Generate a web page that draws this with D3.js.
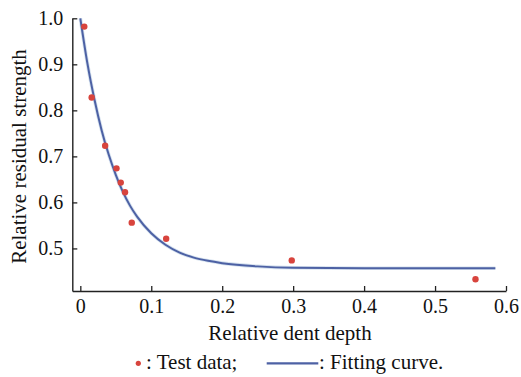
<!DOCTYPE html>
<html><head><meta charset="utf-8"><script src='https://d3js.org/d3.v7.min.js'></script></head>
<body style="margin:0">
<script>
    var width = 521, height = 377;
    var serif = 'Liberation Serif';

    // test points
    var testX = [0.0056, 0.016, 0.035, 0.051, 0.057, 0.063, 0.0725, 0.121, 0.298, 0.557];
    var testY = [0.982, 0.828, 0.723, 0.674, 0.643, 0.622, 0.556, 0.521, 0.474, 0.433];

    // fitted curve
    var fitX = [0, 0.01, 0.02, 0.03, 0.04, 0.05, 0.06, 0.07, 0.08, 0.10, 0.12, 0.14, 0.16, 0.18, 0.20, 0.25, 0.30, 0.40, 0.50, 0.585];
    var fitY = [1.0, 0.902, 0.823, 0.757, 0.704, 0.660, 0.623, 0.593, 0.569, 0.533, 0.508, 0.491, 0.480, 0.473, 0.468, 0.461, 0.458, 0.457, 0.457, 0.457];

    var xTicks = [0, 0.1, 0.2, 0.3, 0.4, 0.5, 0.6];
    var yTicks = [0.5, 0.6, 0.7, 0.8, 0.9, 1.0];

    var svg = d3.select('body').append('svg').attr('width', width).attr('height', height);

    var x = d3.scaleLinear().domain([-0.0113, 0.6]).range([72.3, 506]);
    var y = d3.scaleLinear().domain([0.4075, 1.0]).range([291, 18.3]);

    function styleText(sel, size) {
        return sel.attr('font-family', serif).attr('font-size', size).attr('fill', '#111');
    }

    var xAxis = svg.append('g').attr('transform', 'translate(0,291)')
        .call(d3.axisBottom(x).tickValues(xTicks).tickSizeInner(-5).tickSizeOuter(0).tickPadding(7.5)
            .tickFormat(function(d) { return d === 0 ? '0' : d.toFixed(1); }));
    var yAxis = svg.append('g').attr('transform', 'translate(72.3,0)')
        .call(d3.axisLeft(y).tickValues(yTicks).tickSizeInner(-5).tickSizeOuter(0).tickPadding(9)
            .tickFormat(d3.format('.1f')));

    [xAxis, yAxis].forEach(function(a) {
        a.attr('font-family', serif).attr('font-size', 20);
        a.select('.domain').attr('stroke', '#222').attr('stroke-width', 1.4);
        a.selectAll('.tick line').attr('stroke', '#222').attr('stroke-width', 1.3);
        styleText(a.selectAll('.tick text'), 20);
    });

    // fitting curve
    var line = d3.line()
        .x(function(d, i) { return x(fitX[i]); })
        .y(function(d, i) { return y(fitY[i]); })
        .curve(d3.curveMonotoneX);
    svg.append('path').datum(fitY).attr('d', line)
        .attr('fill', 'none').attr('stroke', '#b9cde3').attr('stroke-width', 3.6).attr('opacity', 0.6);
    svg.append('path').datum(fitY).attr('d', line)
        .attr('fill', 'none').attr('stroke', '#4d61a4').attr('stroke-width', 2);

    // test data
    svg.selectAll('circle.pt')
        .data(testY)
        .join('circle')
        .attr('class', 'pt')
        .attr('cx', function(d, i) { return x(testX[i]); })
        .attr('cy', function(d) { return y(d); })
        .attr('r', 3.2)
        .attr('fill', '#d8443d');

    // axis titles
    styleText(svg.append('text'), 21).attr('x', 290).attr('y', 340).attr('text-anchor', 'middle')
        .text('Relative dent depth');
    styleText(svg.append('text'), 21).attr('transform', 'translate(26,156.5) rotate(-90)').attr('text-anchor', 'middle')
        .text('Relative residual strength');

    // legend
    svg.append('circle').attr('cx', 138.3).attr('cy', 363.3).attr('r', 2.6).attr('fill', '#d8443d');
    styleText(svg.append('text'), 21).attr('x', 146).attr('y', 369).text(': Test data;');
    svg.append('line').attr('x1', 266.7).attr('x2', 318.3).attr('y1', 363.3).attr('y2', 363.3)
        .attr('stroke', '#4d61a4').attr('stroke-width', 2.2);
    styleText(svg.append('text'), 21).attr('x', 319).attr('y', 369).text(': Fitting curve.');
</script>
</body></html>
